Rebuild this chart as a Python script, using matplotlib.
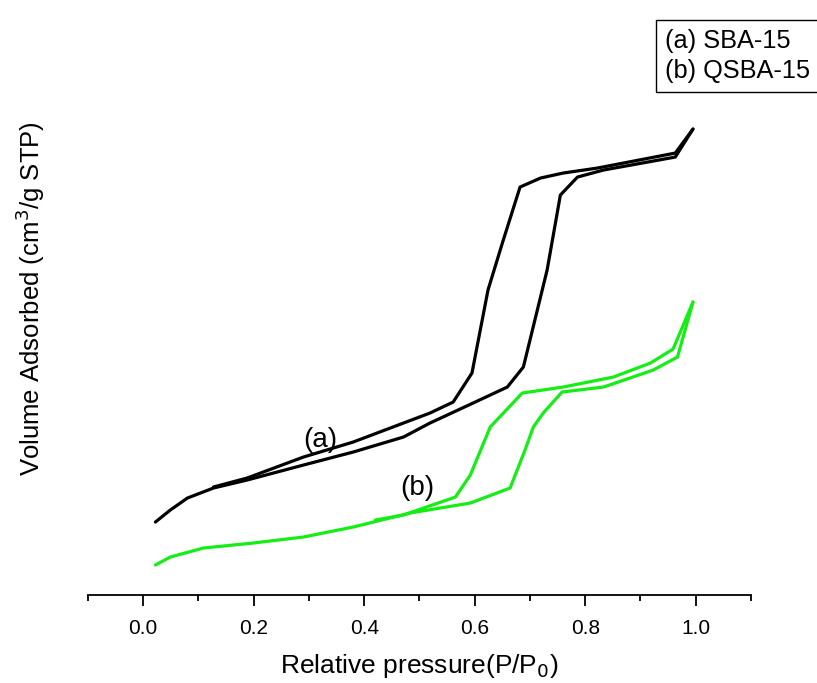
import numpy as np
import matplotlib.pyplot as plt
from matplotlib.ticker import MultipleLocator

plt.rcParams['font.family'] = ['Liberation Sans', 'DejaVu Sans']

# (a) SBA-15 -- adsorption branch (lower) and desorption branch (upper)
sba_ads_p = [0.022, 0.049, 0.080, 0.127, 0.188, 0.290, 0.380, 0.471, 0.519, 0.597,
             0.659, 0.688, 0.700, 0.731, 0.755, 0.786, 0.833, 0.963, 0.995]
sba_ads_v = [78, 90, 102, 112, 120, 135, 148, 163, 177, 197,
             213, 233, 260, 330, 405, 423, 430, 443, 471]
sba_des_p = [0.995, 0.963, 0.822, 0.760, 0.719, 0.682, 0.650, 0.624, 0.595, 0.561,
             0.519, 0.471, 0.380, 0.290, 0.188, 0.127]
sba_des_v = [471, 447, 432, 427, 422, 413, 357, 310, 227, 198,
             187, 177, 158, 143, 122, 113]

# (b) QSBA-15
qsba_ads_p = [0.022, 0.049, 0.109, 0.199, 0.290, 0.380, 0.483, 0.592, 0.664, 0.691,
              0.706, 0.724, 0.758, 0.833, 0.881, 0.923, 0.967, 0.995]
qsba_ads_v = [35, 43, 52, 57, 63, 73, 87, 97, 112, 150,
              173, 187, 208, 213, 222, 230, 243, 298]
qsba_des_p = [0.995, 0.959, 0.918, 0.851, 0.760, 0.686, 0.628, 0.592, 0.565, 0.471, 0.420]
qsba_des_v = [298, 251, 237, 223, 213, 207, 173, 125, 103, 85, 80]

fig = plt.figure(figsize=(8.17, 6.83), dpi=100)
ax = fig.add_axes([0.1077, 0.1288, 0.8115, 0.7247])

lw = 2.3
ax.plot(sba_ads_p, sba_ads_v, color='black', lw=lw, solid_capstyle='round')
ax.plot(sba_des_p, sba_des_v, color='black', lw=lw, solid_capstyle='round')
ax.plot(qsba_ads_p, qsba_ads_v, color='#14ee14', lw=lw, solid_capstyle='round')
ax.plot(qsba_des_p, qsba_des_v, color='#14ee14', lw=lw, solid_capstyle='round')

ax.text(0.32, 160, '(a)', fontsize=20, ha='center', va='center')
ax.text(0.496, 112, '(b)', fontsize=20, ha='center', va='center')

ax.set_xlim(-0.1, 1.1)
ax.set_ylim(5, 500)
for s in ['top', 'right', 'left']:
    ax.spines[s].set_visible(False)
ax.spines['bottom'].set_linewidth(1.3)
ax.set_yticks([])
ax.xaxis.set_major_locator(MultipleLocator(0.2))
ax.xaxis.set_minor_locator(MultipleLocator(0.1))
ax.tick_params(axis='x', which='major', direction='out', length=8, width=1.3, labelsize=15, pad=9)
ax.tick_params(axis='x', which='minor', direction='out', length=4, width=1.3)
ax.set_xticks(np.arange(0, 1.01, 0.2))
ax.set_xticklabels(['0.0', '0.2', '0.4', '0.6', '0.8', '1.0'])

ax.set_xlabel('Relative pressure(P/P$_0$)', fontsize=19, labelpad=10)
fig.text(0.037, 0.563, 'Volume Adsorbed (cm$^3$/g STP)', rotation=90,
         fontsize=18.5, ha='center', va='center')

fig.text(0.814, 0.918, '(a) SBA-15\n(b) QSBA-15', fontsize=18.3, ha='left', va='center',
         linespacing=1.3,
         bbox=dict(boxstyle='square,pad=0.35', facecolor='white', edgecolor='black', lw=1.0))

fig.savefig('out.png', dpi=100)
